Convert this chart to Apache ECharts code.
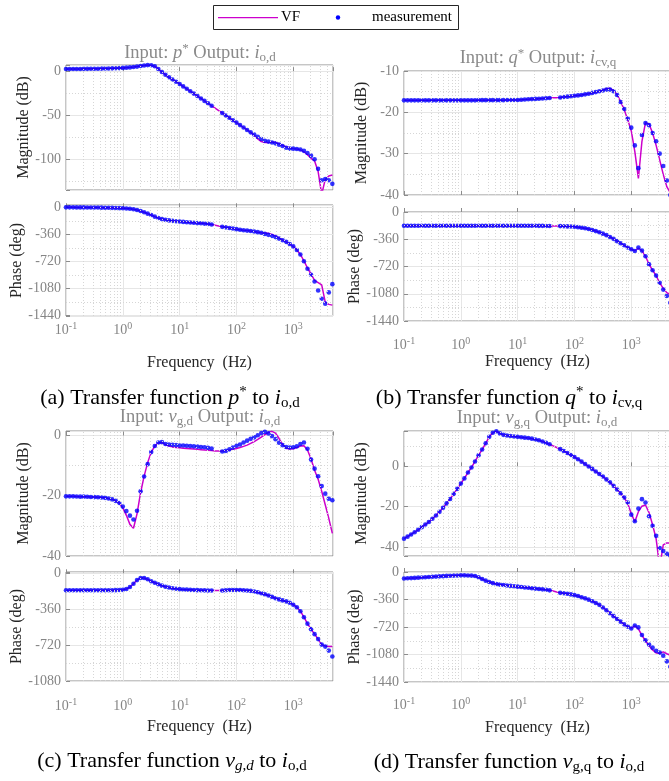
<!DOCTYPE html>
<html><head><meta charset="utf-8">
<script src="https://cdn.jsdelivr.net/npm/echarts@6/dist/echarts.min.js"></script>
<style>html,body{margin:0;padding:0;background:#fff}#c{width:669px;height:781px}</style>
</head><body><div id="c"></div>
<script>
// ---------------- data ----------------
const FREQ = [0.1,0.1155,0.1334,0.154,0.1778,0.2054,0.2371,0.2738,
 0.3162,0.3652,0.4217,0.487,0.5623,0.6494,0.7499,0.866,
 1,1.155,1.334,1.54,1.778,2.054,2.371,2.738,
 3.162,3.652,4.217,4.87,5.623,6.494,7.499,8.66,
 10,11.55,13.34,15.4,17.78,20.54,23.71,27.38,
 31.62,36.52,42.17,48.7,56.23,64.94,74.99,86.6,
 100,115.5,133.4,154,177.8,205.4,237.1,273.8,
 316.2,365.2,421.7,487,562.3,649.4,749.9,866,
 1000,1155,1334,1540,1778,2054,2371,2738,
 3162,3652,4217,4870];

const A_MAG_MEAS = [2.5,2.5,2.5,2.5,2.5,2.6,2.6,2.7,
 2.7,2.8,2.9,3.0,3.1,3.2,3.3,3.5,
 3.7,4.0,4.3,4.7,5.2,5.8,6.4,6.9,
 6.8,5.5,2.5,-1.0,-4.0,-7.0,-9.5,-12.0,
 -14.5,-17.3,-20.0,-22.8,-25.5,-28.3,-31.0,-33.8,
 -36.5,-39.3,null,null,-47.5,-50.3,-53.0,-55.8,
 -58.5,-61.3,-64.0,-66.8,-69.5,-72.0,-74.5,-77.0,
 -79.0,-80.0,-81.0,-82.0,-83.5,-85.0,-87.0,-88.0,
 -88.0,-88.5,-89.0,-90.5,-93.0,-96.0,-100.0,-111.0,
 -124.0,-122.5,-124.0,-128.0];
const A_MAG_VF = [2.5,2.5,2.5,2.5,2.5,2.6,2.6,2.7,
 2.7,2.8,2.9,3.0,3.1,3.2,3.3,3.5,
 3.7,4.0,4.3,4.7,5.2,5.8,6.4,6.9,
 6.8,5.5,2.5,-1.0,-4.0,-7.0,-9.5,-12.0,
 -14.5,-17.3,-20.0,-22.8,-25.5,-28.3,-31.0,-33.8,
 -36.5,-39.3,-42.0,-44.8,-47.5,-50.3,-53.0,-55.8,
 -58.5,-61.3,-64.0,-66.8,-69.5,-73.0,-77.0,-80.0,
 -81.0,-81.0,-80.5,-81.0,-82.5,-84.5,-86.0,-87.0,
 -88.0,-88.5,-89.5,-91.5,-95.0,-99.0,-102.0,-114.0,
 -140.0,-123.0,-119.0,-118.0];
const A_PH_MEAS = [-1,-1,-1,-2,-2,-2,-3,-3,
 -4,-4,-5,-6,-7,-8,-9,-11,
 -13,-16,-20,-27,-37,-50,-66,-85,
 -103,-125,-143,-158,-168,-175,-181,-186,
 -190,-195,-199,-203,-207,-211,-214,-218,
 -222,-230,null,null,-261,-268,-276,-284,
 -292,-300,-306,-311,-317,-324,-332,-340,
 -355,-368,-383,-398,-418,-440,-462,-490,
 -522,-570,-630,-720,-820,-900,-990,-1110,
 -1220,-1285,-1135,-1025];
const A_PH_VF = [-1,-1,-1,-2,-2,-2,-3,-3,
 -4,-4,-5,-6,-7,-8,-9,-11,
 -13,-16,-20,-27,-37,-50,-66,-85,
 -103,-125,-143,-158,-168,-175,-181,-186,
 -190,-195,-199,-203,-207,-211,-214,-218,
 -222,-230,-240,-250,-261,-268,-276,-284,
 -292,-300,-306,-311,-317,-324,-332,-340,
 -342,-348,-362,-385,-410,-437,-462,-490,
 -522,-570,-630,-715,-810,-890,-975,-1005,
 -1035,-1265,-1295,-1305];

const B_MAG_MEAS = [-17.1,-17.1,-17.1,-17.1,-17.1,-17.1,-17.1,-17.1,
 -17.1,-17.1,-17.1,-17.1,-17.1,-17.1,-17.1,-17.1,
 -17.1,-17.1,-17.1,-17.1,-17.1,-17.05,-17.05,-17.05,
 -17.05,-17.05,-17.05,-17.05,-17.05,-17.0,-17.0,-17.0,
 -17.0,-16.95,-16.9,-16.85,-16.8,-16.75,-16.7,-16.65,
 -16.6,-16.55,null,null,-16.4,-16.3,-16.2,-16.1,
 -16.0,-15.9,-15.8,-15.65,-15.5,-15.3,-15.1,-14.9,
 -14.7,-14.5,-14.5,-14.9,-15.8,-17.5,-19.2,-21.5,
 -23.7,-28.0,-33.5,-25.5,-22.6,-23.1,-25.0,-27.0,
 -30.0,-33.0,-36.5,-40.0];
const B_MAG_VF = [-17.1,-17.1,-17.1,-17.1,-17.1,-17.1,-17.1,-17.1,
 -17.1,-17.1,-17.1,-17.1,-17.1,-17.1,-17.1,-17.1,
 -17.1,-17.1,-17.1,-17.1,-17.1,-17.05,-17.05,-17.05,
 -17.05,-17.05,-17.05,-17.05,-17.05,-17.0,-17.0,-17.0,
 -17.0,-16.95,-16.9,-16.85,-16.8,-16.75,-16.7,-16.65,
 -16.6,-16.55,-16.5,-16.45,-16.4,-16.3,-16.2,-16.1,
 -16.0,-15.9,-15.8,-15.65,-15.5,-15.3,-15.1,-14.9,
 -14.6,-14.3,-14.2,-14.7,-15.7,-17.4,-19.3,-21.8,
 -24.5,-29.5,-36.0,-27.0,-22.5,-22.8,-25.0,-28.0,
 -31.5,-35.0,-38.0,-39.5];
const B_PH_MEAS = [-181,-181,-181,-181,-181,-181,-181,-181,
 -181,-181,-181,-181,-181,-181,-181,-181,
 -181,-181,-181,-181,-181,-181,-181,-181,
 -181,-181,-181,-181,-181,-181,-181,-181,
 -181,-181,-181,-181,-182,-182,-183,-183,
 -184,-185,null,null,-186,-188,-190,-192,
 -195,-200,-207,-215,-225,-237,-252,-268,
 -286,-306,-330,-355,-385,-412,-440,-468,
 -492,-515,-470,-510,-585,-690,-770,-840,
 -935,-1025,-1110,-1200];
const B_PH_VF = [-181,-181,-181,-181,-181,-181,-181,-181,
 -181,-181,-181,-181,-181,-181,-181,-181,
 -181,-181,-181,-181,-181,-181,-181,-181,
 -181,-181,-181,-181,-181,-181,-181,-181,
 -181,-181,-181,-181,-182,-182,-183,-183,
 -184,-185,-185,-186,-186,-188,-190,-192,
 -195,-200,-207,-215,-225,-237,-252,-268,
 -286,-306,-330,-355,-385,-412,-440,-468,
 -492,-512,-478,-510,-585,-690,-770,-840,
 -935,-1010,-1065,-1090];

const C_MAG_MEAS = [-20.2,-20.2,-20.2,-20.25,-20.3,-20.3,-20.35,-20.4,
 -20.45,-20.5,-20.6,-20.7,-20.9,-21.2,-21.7,-22.4,
 -23.6,-25.1,-26.6,-27.9,-25.0,-18.5,-13.6,-9.5,
 -5.5,-3.5,-2.3,-2.2,-2.8,-3.0,-3.1,-3.2,
 -3.3,-3.3,-3.4,-3.5,-3.6,-3.7,-3.8,-3.9,
 -4.1,-4.3,null,null,-5.3,-5.1,-4.6,-4.0,
 -3.4,-3.0,-2.3,-1.7,-1.1,-0.6,0.1,0.8,
 1.2,0.7,-0.2,-1.2,-2.4,-3.2,-3.8,-4.0,
 -3.9,-3.6,-2.8,-2.3,-4.4,-8.0,-11.0,-13.5,
 -16.8,-19.3,-21.0,-21.5];
const C_MAG_VF = [-20.2,-20.2,-20.2,-20.25,-20.3,-20.3,-20.35,-20.4,
 -20.45,-20.5,-20.6,-20.7,-20.9,-21.2,-21.7,-22.4,
 -24.0,-26.5,-29.5,-30.8,-26.0,-19.0,-13.5,-9.0,
 -5.5,-3.5,-2.5,-2.3,-3.0,-3.5,-3.8,-4.0,
 -4.1,-4.2,-4.3,-4.4,-4.5,-4.6,-4.7,-4.8,
 -4.9,-5.0,-5.1,-5.1,-5.1,-5.0,-4.8,-4.6,
 -4.3,-4.0,-3.6,-3.2,-2.6,-2.0,-1.3,-0.5,
 0.3,1.0,1.4,0.8,-1.0,-3.0,-4.2,-4.5,
 -4.4,-4.0,-3.5,-3.4,-4.8,-7.8,-11.5,-14.5,
 -18.5,-23.0,-27.5,-32.5];
const C_PH_MEAS = [-170,-170,-170,-170,-170,-170,-170,-170,
 -170,-170,-170,-170,-170,-170,-169,-168,
 -166,-158,-138,-105,-68,-47,-47,-60,
 -80,-95,-110,-124,-135,-143,-150,-155,
 -159,-162,-164,-166,-168,-169,-170,-171,
 -172,-173,null,null,-172,-170,-168,-167,
 -167,-168,-170,-172,-176,-182,-190,-200,
 -210,-222,-236,-250,-262,-272,-282,-295,
 -315,-340,-380,-440,-505,-560,-610,-660,
 -715,-735,-775,-835];
const C_PH_VF = [-170,-170,-170,-170,-170,-170,-170,-170,
 -170,-170,-170,-170,-170,-170,-169,-168,
 -166,-158,-138,-105,-68,-47,-47,-60,
 -80,-95,-110,-124,-135,-143,-150,-155,
 -159,-162,-164,-166,-168,-169,-170,-171,
 -172,-173,-173,-173,-172,-170,-168,-167,
 -167,-168,-170,-172,-176,-182,-190,-200,
 -210,-222,-236,-250,-262,-272,-282,-295,
 -315,-340,-380,-440,-505,-560,-610,-660,
 -715,-728,-733,-735];

const D_MAG_MEAS = [-35.9,-34.9,-33.8,-32.7,-31.5,-30.2,-28.9,-27.6,
 -26.0,-24.4,-22.6,-20.6,-18.4,-16.2,-13.7,-11.2,
 -8.6,-6.0,-3.1,-0.6,2.4,5.5,8.3,11.4,
 14.6,16.6,17.4,16.3,15.6,15.3,15.0,14.8,
 14.6,14.4,14.2,14.0,13.7,13.3,12.9,12.3,
 11.6,10.9,null,null,8.5,7.6,6.6,5.6,
 4.6,3.5,2.3,1.1,-0.1,-1.3,-2.6,-3.8,
 -5.1,-6.5,-8.0,-9.7,-11.5,-13.4,-15.5,-18.0,
 -24.0,-27.3,-21.0,-16.3,-18.0,-24.8,-29.5,-34.5,
 -40.5,-42.0,-43.4,-44.3];
const D_MAG_VF = [-35.9,-34.9,-33.8,-32.7,-31.5,-30.2,-28.9,-27.6,
 -26.0,-24.4,-22.6,-20.6,-18.4,-16.2,-13.7,-11.2,
 -8.6,-6.0,-3.1,-0.6,2.4,5.5,8.3,11.4,
 14.6,16.6,17.4,16.3,15.6,15.3,15.0,14.8,
 14.6,14.4,14.2,14.0,13.7,13.3,12.9,12.3,
 11.6,10.9,10.1,9.3,8.5,7.6,6.6,5.6,
 4.6,3.5,2.3,1.1,-0.1,-1.3,-2.6,-3.8,
 -5.1,-6.5,-8.0,-9.7,-11.5,-13.4,-15.6,-18.5,
 -23.5,-27.5,-22.5,-19.8,-19.2,-23.0,-29.0,-36.0,
 -50.0,-39.0,-38.0,-38.0];
const D_PH_MEAS = [-85,-82,-80,-77,-74,-72,-69,-66,
 -63,-60,-57,-54,-51,-49,-47,-45,
 -44,-44,-45,-47,-53,-70,-92,-113,
 -130,-145,-157,-165,-171,-176,-182,-187,
 -192,-197,-202,-207,-212,-217,-222,-227,
 -233,-240,null,null,-273,-279,-285,-293,
 -303,-315,-330,-345,-362,-382,-405,-430,
 -465,-500,-540,-578,-615,-650,-685,-715,
 -740,-700,-725,-825,-895,-950,-990,-1030,
 -1055,-1095,-1170,-1240];
const D_PH_VF = [-85,-82,-80,-77,-74,-72,-69,-66,
 -63,-60,-57,-54,-51,-49,-47,-45,
 -44,-44,-45,-47,-53,-70,-92,-113,
 -130,-145,-157,-165,-171,-176,-182,-187,
 -192,-197,-202,-207,-212,-217,-222,-227,
 -233,-240,-250,-262,-273,-279,-285,-293,
 -303,-315,-330,-345,-362,-382,-405,-430,
 -465,-500,-540,-578,-615,-650,-685,-715,
 -735,-705,-745,-830,-900,-965,-1020,-1060,
 -1065,-1045,-1070,-1090];

// minor grid frequencies (2..9 x decade)
const MINOR_FREQ = [0.2,0.3,0.4,0.5,0.6,0.7,0.8,0.9,
 2,3,4,5,6,7,8,9, 20,30,40,50,60,70,80,90,
 200,300,400,500,600,700,800,900, 2000,3000,4000];

// ---------------- layout ----------------
const FONT = 'Liberation Serif';
const GRAY = '#858585';
const DARK = '#262626';

const PANELS = [
 {grid:{left:66, top:65, width:267, height:125}, min:-135, max:7, step:50, name:'Magnitude (dB)', meas:A_MAG_MEAS, vf:A_MAG_VF, phase:false},
 {grid:{left:66, top:205, width:267, height:111}, min:-1450, max:30, step:360, name:'Phase (deg)', meas:A_PH_MEAS, vf:A_PH_VF, phase:true, lm:5, ng:39},
 {grid:{left:404, top:71, width:267, height:124}, min:-40, max:-10, step:10, name:'Magnitude (dB)', meas:B_MAG_MEAS, vf:B_MAG_VF, phase:false},
 {grid:{left:404, top:212, width:267, height:109}, min:-1440, max:0, step:360, name:'Phase (deg)', meas:B_PH_MEAS, vf:B_PH_VF, phase:true, lm:15, ng:33},
 {grid:{left:66, top:431, width:267, height:125}, min:-40, max:1.5, step:20, name:'Magnitude (dB)', meas:C_MAG_MEAS, vf:C_MAG_VF, phase:false},
 {grid:{left:66, top:572, width:267, height:109}, min:-1080, max:13, step:360, name:'Phase (deg)', meas:C_PH_MEAS, vf:C_PH_VF, phase:true, lm:16, ng:38},
 {grid:{left:404, top:431, width:267, height:125}, min:-44.5, max:17.5, step:20, name:'Magnitude (dB)', meas:D_MAG_MEAS, vf:D_MAG_VF, phase:false},
 {grid:{left:404, top:572, width:267, height:110}, min:-1440, max:0, step:360, name:'Phase (deg)', meas:D_PH_MEAS, vf:D_PH_VF, phase:true, lm:14, ng:38}
];

const pairs = arr => FREQ.map((f, i) => [f, arr[i]]).filter(p => p[1] !== null);

const TICK_RICH = {
  b: {fontFamily: FONT, fontSize: 14, color: GRAY, lineHeight: 18},
  e: {fontFamily: FONT, fontSize: 10, color: GRAY, lineHeight: 10, verticalAlign: 'top'}
};

const grids = [], xAxes = [], yAxes = [], series = [];
PANELS.forEach((p, i) => {
  grids.push(Object.assign({show: true, borderColor: '#8c8c8c', borderWidth: 1, backgroundColor: 'transparent',
    containLabel: false, outerBoundsMode: 'none'}, p.grid));
  xAxes.push({
    type: 'log', logBase: 10, gridIndex: i, min: 0.1, max: 5000,
    axisLine: {show: false},
    axisTick: {show: true, inside: true, length: 4, lineStyle: {color: '#8c8c8c'}},
    axisLabel: {show: p.phase, margin: p.lm || 5, showMaxLabel: false,
      formatter: v => { const e = Math.log10(v), r = Math.round(e); return Math.abs(e - r) > 1e-6 ? '' : '{b|10}{e|' + r + '}'; },
      rich: TICK_RICH},
    splitLine: {show: true, lineStyle: {color: '#e6e6e6', width: 1}},
    name: p.phase ? 'Frequency  (Hz)' : '', nameLocation: 'middle', nameGap: p.ng || 36,
    nameTextStyle: {fontFamily: FONT, fontSize: 16, color: DARK}
  });
  yAxes.push({
    type: 'value', gridIndex: i, min: p.min, max: p.max, minInterval: p.step, maxInterval: p.step, splitNumber: 5,
    axisLine: {show: false},
    axisTick: {show: true, inside: true, length: 4, lineStyle: {color: '#8c8c8c'}},
    axisLabel: {fontFamily: FONT, fontSize: 14, color: GRAY, margin: 5,
      formatter: v => (Math.abs(v / p.step - Math.round(v / p.step)) < 1e-6 ? String(Math.round(v)) : '')},
    splitLine: {show: true, lineStyle: {color: '#e6e6e6', width: 1}},
    name: p.name, nameLocation: 'middle', nameGap: 34,
    nameTextStyle: {fontFamily: FONT, fontSize: 16, color: DARK}
  });
  const minorY = [];
  for (let v = Math.ceil(p.min / p.step) * p.step - p.step / 2; v < p.max; v += p.step) if (v > p.min) minorY.push(v);
  series.push({
    type: 'line', xAxisIndex: i, yAxisIndex: i, data: [], z: 1, silent: true,
    markLine: {silent: true, symbol: ['none', 'none'], animation: false, label: {show: false},
      lineStyle: {type: [1, 2], color: '#d6d6d6', width: 1},
      data: MINOR_FREQ.map(f => ({xAxis: f})).concat(minorY.map(v => ({yAxis: v})))}
  });
  series.push({
    name: 'VF', type: 'line', xAxisIndex: i, yAxisIndex: i, data: pairs(p.vf), symbol: 'none', clip: true,
    lineStyle: {color: '#cc00cc', width: 1.5}, itemStyle: {color: '#cc00cc'}, z: 2
  });
  series.push({
    name: 'measurement', type: 'scatter', xAxisIndex: i, yAxisIndex: i, data: pairs(p.meas), symbolSize: 4.6,
    itemStyle: {color: '#0000ff'}, z: 3, clip: true
  });
});

function richSet(size, color) {
  const s = Math.round(size * 0.7);
  return {
    n: {fontFamily: FONT, fontSize: size, fill: color, lineHeight: size + 4},
    i: {fontFamily: FONT, fontStyle: 'italic', fontSize: size, fill: color, lineHeight: size + 4},
    sup: {fontFamily: FONT, fontSize: s, fill: color, lineHeight: s, verticalAlign: 'top'},
    sub: {fontFamily: FONT, fontSize: s, fill: color, lineHeight: s, verticalAlign: 'bottom'},
    subi: {fontFamily: FONT, fontStyle: 'italic', fontSize: s, fill: color, lineHeight: s, verticalAlign: 'bottom'}
  };
}
const TITLE_RICH = richSet(18.5, '#8a8a8a');
const CAP_RICH = richSet(22, '#000');
const txt = (x, y, text, rich) => ({type: 'text', x: x, y: y, silent: true, zlevel: 1, z: 10,
  style: {text: text, rich: rich, align: 'center', verticalAlign: 'middle'}});

const graphics = [
  // legend
  {type: 'rect', zlevel: 1, z: 10, shape: {x: 213.5, y: 5.5, width: 245, height: 24}, style: {fill: '#fff', stroke: DARK, lineWidth: 1}},
  {type: 'rect', zlevel: 1, z: 11, shape: {x: 218, y: 17, width: 60, height: 1.2}, style: {fill: '#cc00cc'}},
  {type: 'text', zlevel: 1, z: 11, x: 281, y: 17.5, style: {text: 'VF', fontFamily: FONT, fontSize: 15, fill: '#000', verticalAlign: 'middle'}},
  {type: 'circle', zlevel: 1, z: 11, shape: {cx: 338, cy: 17.5, r: 2.2}, style: {fill: '#0000ff'}},
  {type: 'text', zlevel: 1, z: 11, x: 372, y: 17.5, style: {text: 'measurement', fontFamily: FONT, fontSize: 15, fill: '#000', verticalAlign: 'middle'}},
  // panel titles
  txt(200, 53, '{n|Input: }{i|p}{sup|*}{n| Output: }{i|i}{sub|o,d}', TITLE_RICH),
  txt(538, 58, '{n|Input: }{i|q}{sup|*}{n| Output: }{i|i}{sub|cv,q}', TITLE_RICH),
  txt(200, 417, '{n|Input: }{i|v}{sub|g,d}{n| Output: }{i|i}{sub|o,d}', TITLE_RICH),
  txt(537, 418, '{n|Input: }{i|v}{sub|g,q}{n| Output: }{i|i}{sub|o,d}', TITLE_RICH),
  // captions
  txt(170, 398, '{n|(a) Transfer function }{i|p}{sup|*}{n| to }{i|i}{sub|o,d}', CAP_RICH),
  txt(509, 398, '{n|(b) Transfer function }{i|q}{sup|*}{n| to }{i|i}{sub|cv,q}', CAP_RICH),
  txt(172, 761, '{n|(c) Transfer function }{i|v}{subi|g,d}{n| to }{i|i}{sub|o,d}', CAP_RICH),
  txt(509, 762, '{n|(d) Transfer function }{i|v}{sub|g,q}{n| to }{i|i}{sub|o,d}', CAP_RICH)
];

const chart = echarts.init(document.getElementById('c'), null, {renderer: 'canvas'});
chart.setOption({
  animation: false,
  backgroundColor: '#fff',
  grid: grids, xAxis: xAxes, yAxis: yAxes, series: series,
  graphic: graphics
});
</script>
</body></html>
